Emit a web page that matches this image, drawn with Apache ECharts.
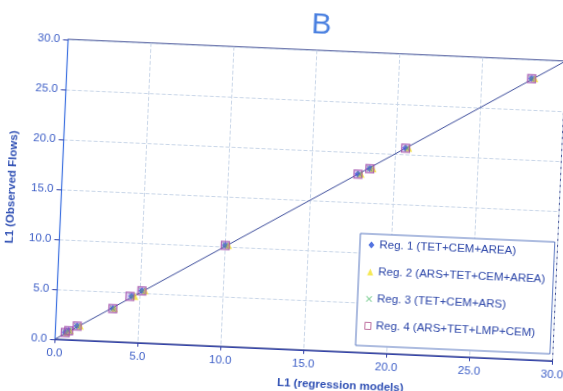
<!DOCTYPE html>
<html><head><meta charset="utf-8">
<script src="https://cdn.jsdelivr.net/npm/echarts@6/dist/echarts.min.js"></script>
<style>
html,body{margin:0;padding:0;background:#fff;overflow:hidden;width:563px;height:391px;}
#chart{position:absolute;left:-18px;top:-20px;width:600px;height:430px;transform:rotate(2.5deg);transform-origin:299.5px 215.5px;}
</style></head><body><div id="chart"></div>
<script>
const chartTitle = 'B';
const xAxisName = 'L1 (regression models)';
const yAxisName = 'L1 (Observed Flows)';
const seriesNames = ['Reg. 1 (TET+CEM+AREA)', 'Reg. 2 (ARS+TET+CEM+AREA)', 'Reg. 3 (TET+CEM+ARS)', 'Reg. 4 (ARS+TET+LMP+CEM)'];
// observed flows (y)
const observed = [0.7, 0.9, 1.4, 3.3, 4.6, 5.2, 10.1, 17.8, 18.4, 20.6, 28.1];
// regression model predictions (x)
const reg1 = [0.6, 0.8, 1.3, 3.4, 4.5, 5.1, 10.0, 17.8, 18.5, 20.6, 28.0];
const reg2 = [0.7, 0.9, 1.5, 3.5, 4.7, 5.3, 10.2, 18.0, 18.7, 20.8, 28.2];
const reg3 = [0.6, 0.8, 1.3, 3.4, 4.5, 5.1, 10.0, 17.9, 18.5, 20.7, 28.0];
const reg4 = [0.6, 0.8, 1.3, 3.4, 4.4, 5.1, 10.0, 17.8, 18.5, 20.6, 28.0];
const fitLine = [0, 30];
const axisMin = 0, axisMax = 30, axisStep = 5;

const pts = xs => xs.map((x, i) => [x, observed[i]]);
const crossPath = 'path://M0,1L1,0L5,4L9,0L10,1L6,5L10,9L9,10L5,6L1,10L0,9L4,5Z';
const labelColor = '#3a5cc6';

const chart = echarts.init(document.getElementById('chart'));
chart.setOption({
  animation: false,
  backgroundColor: '#fff',
  textStyle: { fontFamily: 'Liberation Sans, Arial, sans-serif' },
  title: {
    text: chartTitle, left: 327, top: 24, textAlign: 'center',
    textStyle: { fontSize: 30, fontWeight: 'normal', color: '#4a80e0', fontFamily: 'Liberation Sans, Arial, sans-serif' }
  },
  grid: { left: 79.5, top: 68.8, width: 498, height: 300, show: true, borderColor: '#3a4690', borderWidth: 1, backgroundColor: 'transparent' },
  legend: {
    orient: 'vertical', left: 380, top: 250,
    backgroundColor: '#fff', borderColor: '#5a78c0', borderWidth: 1,
    padding: [5, 8, 14, 8], itemGap: 15, itemWidth: 6, itemHeight: 7,
    textStyle: { fontSize: 11.5, color: '#2b45a8', fontFamily: 'Liberation Sans, Arial, sans-serif' },
    data: [
      { name: seriesNames[0], icon: 'diamond' },
      { name: seriesNames[1], icon: 'triangle' },
      { name: seriesNames[2], icon: crossPath },
      { name: seriesNames[3], icon: 'rect', itemStyle: { color: '#fff', borderColor: '#b0508a', borderWidth: 1 } }
    ]
  },
  xAxis: {
    type: 'value', min: axisMin, max: axisMax, interval: axisStep,
    name: xAxisName, nameLocation: 'middle', nameGap: 28,
    nameTextStyle: { fontSize: 11.5, fontWeight: 'bold', color: '#3050b4', padding: [0, 0, 0, 76] },
    axisLine: { show: true, lineStyle: { color: '#3040a8', width: 1.2 } },
    axisTick: { show: true, length: 4, lineStyle: { color: '#3040a8' } },
    axisLabel: { fontSize: 11.5, color: labelColor, margin: 8, formatter: v => v.toFixed(1) },
    splitLine: { show: true, lineStyle: { color: '#c9d6e8', type: 'dashed', width: 1 } }
  },
  yAxis: {
    type: 'value', min: axisMin, max: axisMax, interval: axisStep,
    name: yAxisName, nameLocation: 'middle', nameGap: 44, nameRotate: 90,
    nameTextStyle: { fontSize: 11.5, fontWeight: 'bold', color: '#3050b4' },
    axisLine: { show: true, lineStyle: { color: '#3c70e0', width: 1.2 } },
    axisTick: { show: true, length: 5, lineStyle: { color: '#3040a8' } },
    axisLabel: { fontSize: 11.5, color: labelColor, margin: 8, formatter: v => v.toFixed(1) },
    splitLine: { show: true, lineStyle: { color: '#c9d6e8', type: 'dashed', width: 1 } }
  },
  series: [
    { name: 'fit', type: 'line', data: fitLine.map(v => [v, v]), symbol: 'none', silent: true,
      lineStyle: { color: '#3a4a9a', width: 1 }, z: 1 },
    { name: seriesNames[0], type: 'scatter', data: pts(reg1), symbol: 'diamond', symbolSize: 7,
      itemStyle: { color: '#2850d8' }, z: 2 },
    { name: seriesNames[1], type: 'scatter', data: pts(reg2), symbol: 'triangle', symbolSize: 7,
      itemStyle: { color: '#f2e22a' }, z: 2 },
    { name: seriesNames[2], type: 'scatter', data: pts(reg3), symbol: crossPath, symbolSize: 6,
      itemStyle: { color: '#40b860' }, z: 3 },
    { name: seriesNames[3], type: 'scatter', data: pts(reg4), symbol: 'rect', symbolSize: 8,
      itemStyle: { color: 'rgba(140,90,220,0.35)', borderColor: '#a04aa8', borderWidth: 1.2 }, z: 4 }
  ]
});
</script></body></html>
